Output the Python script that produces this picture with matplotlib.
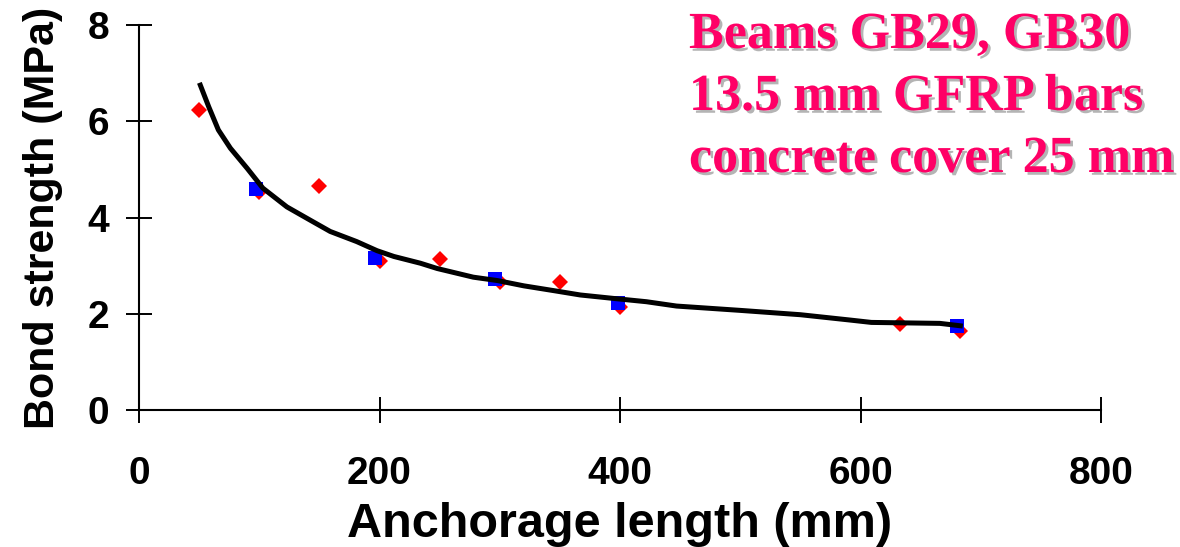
import matplotlib
matplotlib.use("Agg")
import matplotlib.pyplot as plt
import matplotlib.patheffects as pe

red_x = [50, 100, 150, 200, 250, 300, 350, 400, 633, 683]
red_y = [6.23, 4.52, 4.65, 3.10, 3.14, 2.65, 2.66, 2.15, 1.79, 1.65]
blue_x = [97, 196, 296, 398, 680]
blue_y = [4.60, 3.16, 2.73, 2.23, 1.74]

# trend line as drawn in the figure
trend_x = [51, 58, 66, 76, 90, 103, 123, 142, 159, 181, 198, 212, 234, 248,
           278, 298, 320, 345, 367, 394, 422, 447, 500, 550, 591, 609, 666, 683]
trend_y = [6.75, 6.30, 5.82, 5.44, 5.02, 4.61, 4.22, 3.95, 3.71, 3.50, 3.31,
           3.19, 3.05, 2.94, 2.76, 2.69, 2.58, 2.48, 2.39, 2.32, 2.25, 2.16,
           2.07, 1.98, 1.87, 1.82, 1.80, 1.75]

x_ticks = [0, 200, 400, 600, 800]
y_ticks = [0, 2, 4, 6, 8]
note_lines = ["Beams GB29, GB30", "13.5 mm GFRP bars", "concrete cover 25 mm"]

plt.rcParams["font.family"] = "Liberation Sans"
plt.rcParams["font.weight"] = "bold"

fig = plt.figure(figsize=(11.8, 5.47), dpi=100)
ax = fig.add_axes([139 / 1180, 137 / 547, 962 / 1180, 385 / 547])

ax.plot(red_x, red_y, linestyle="none", marker="D", markersize=8.5,
        color="#ff0000", markeredgewidth=0, zorder=2)
ax.plot(blue_x, blue_y, linestyle="none", marker="s", markersize=10,
        color="#0000ff", markeredgewidth=0, zorder=3)
ax.plot(trend_x, trend_y, color="black", linewidth=3.6, zorder=4)

ax.set_xlim(0, 800)
ax.set_ylim(0, 8)
ax.set_xticks(x_ticks)
ax.set_yticks(y_ticks)

for s in ["top", "right"]:
    ax.spines[s].set_visible(False)
for s in ["left", "bottom"]:
    ax.spines[s].set_linewidth(1.5)

ax.tick_params(axis="both", direction="inout", length=18.7, width=1.4,
               labelsize=28)
ax.tick_params(axis="x", pad=23.5)
ax.tick_params(axis="y", pad=12)

ax.set_xlabel("Anchorage length (mm)", fontsize=35, fontweight="bold")
ax.set_ylabel("Bond strength (MPa)", fontsize=31, fontweight="bold")
ax.xaxis.set_label_coords(0.5, -0.239)
ax.yaxis.set_label_coords(-0.079, 0.5)

baselines = [48, 110, 172]
for line, b in zip(note_lines, baselines):
    fig.text(689 / 1180, 1 - b / 547, line, family="Liberation Serif",
             fontsize=37.5, fontweight="bold", color="#ff0066",
             ha="left", va="baseline",
             path_effects=[pe.SimplePatchShadow(offset=(2, -2),
                                                shadow_rgbFace="#b4b4b4",
                                                alpha=1.0),
                           pe.Normal()])

fig.savefig("out.png", dpi=100)
